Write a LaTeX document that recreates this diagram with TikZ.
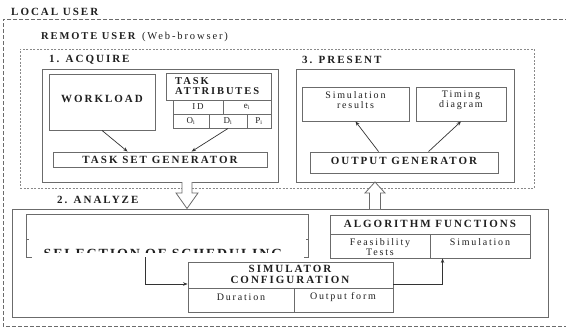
\documentclass[tikz,border=0pt]{standalone}
\usepackage{fontspec}
\setmainfont{Liberation Serif}[LetterSpace=18]
\newfontfamily\selfont{Liberation Serif}[LetterSpace=13]
\usetikzlibrary{arrows.meta,fit,calc}
\definecolor{boxc}{gray}{0.42}
\definecolor{txt}{gray}{0.12}
\begin{document}
\begin{tikzpicture}[x=1pt,y=-1pt,
  box/.style={draw=boxc, line width=0.9pt, inner sep=0pt},
  boxline/.style={draw=boxc, line width=0.9pt},
  bt/.style={font=\fontsize{11}{11}\selectfont\bfseries, text=txt, inner sep=0pt},
  bigt/.style={font=\selfont\fontsize{14}{14}\selectfont\bfseries, text=txt, inner sep=0pt},
  st/.style={font=\fontsize{10}{10}\selectfont, text=txt, align=center, inner sep=0pt},
  ct/.style={font=\fontsize{9}{10}\selectfont, text=txt, inner sep=0pt},
  arr/.style={-{Stealth[length=4.5pt,width=3.5pt]}, draw=black!80, line width=0.7pt},
  ldash/.style={draw=boxc, line width=0.7pt, dash pattern=on 4pt off 2pt},
  rdash/.style={draw=boxc!80, line width=0.6pt, dash pattern=on 2pt off 1.5pt},
  hollow/.style={draw=boxc, line width=0.8pt, fill=white}]
\useasboundingbox (0,0) rectangle (566,327);

% LOCAL USER
\node[bt, anchor=west] (lu) at (11,12) {LOCAL USER};
\draw[ldash] (575,19) -- (3,19) -- (3,326) -- (575,326);

% REMOTE USER
\node[bt, font=\fontsize{10.5}{11}\selectfont\bfseries, anchor=west] (ru) at (41,37) {REMOTE USER \textmd{(Web-browser)}};
\node[rdash, inner sep=0pt, fit={(20,49)(534,188)}] (rem) {};

% 1. ACQUIRE
\node[bt, anchor=west] (acqt) at (49,60) {1. ACQUIRE};
\node[box, fit={(42,69)(278,182)}] (acq) {};
\node[box, fit={(49,74)(155,130)}] (wl) {};
\node[bt] (wlt) at (102,99) {WORKLOAD};
\node[box, fit={(166,73)(271,100)}] (ta) {};
\node[bt, font=\fontsize{10.5}{9.5}\selectfont\bfseries, anchor=west, align=left] (tat) at (175,86) {TASK\\ATTRIBUTES};
\node[box, fit={(173,100)(223,114)}] (id) {};
\node[ct] at (id.center) {ID};
\node[box, fit={(223,100)(271,114)}] (ei) {};
\node[ct] at (ei.center) {e\textsubscript{i}};
\node[box, fit={(173,114)(209,128)}] (oi) {};
\node[ct] at (oi.center) {O\textsubscript{i}};
\node[box, fit={(209,114)(247,128)}] (di) {};
\node[ct] at (di.center) {D\textsubscript{i}};
\node[box, fit={(247,114)(271,128)}] (pi) {};
\node[ct] at (pi.center) {P\textsubscript{i}};
\node[box, fit={(53,152)(267,167)}] (tsg) {};
\node[bt] (tsgt) at (160,160) {TASK SET GENERATOR};
\draw[arr] (wl.south) -- ([xshift=75pt]tsg.north west);
\draw[arr] (di.south) -- ([xshift=139pt]tsg.north west);

% 3. PRESENT
\node[bt, anchor=west] (prt) at (302,60) {3. PRESENT};
\node[box, fit={(296,69)(514,182)}] (pre) {};
\node[box, fit={(302,87)(409,121)}] (sr) {};
\node[st] (srt) at (355.5,100) {Simulation\\results};
\node[box, fit={(416,87)(506,121)}] (td) {};
\node[st] (tdt) at (461,100) {Timing\\diagram};
\node[box, fit={(310,152)(498,173)}] (og) {};
\node[bt] (ogt) at (404,161) {OUTPUT GENERATOR};
\draw[arr] ([xshift=69pt]og.north west) -- (sr.south);
\draw[arr] ([xshift=119pt]og.north west) -- (td.south);

% 2. ANALYZE
\node[bt, anchor=west] (ant) at (57,200) {2. ANALYZE};
\node[box, fit={(12,209)(548,317)}] (ana) {};

% selection of scheduling
\node[inner sep=0pt, fit={(27,215)(308,257)}] (sel) {};
\draw[boxline] ([xshift=5pt]sel.south west) -- (sel.south west) -- (sel.north west) -- (sel.north east) -- (sel.south east) -- ([xshift=-4pt]sel.south east);
\draw[boxline] ([yshift=-3pt]sel.west) -- ++(2.5,0);
\draw[boxline] ([yshift=-3pt]sel.east) -- ++(-2.5,0);
\begin{scope}
\clip (28,216) rectangle (307,252.6);
\node[bigt, anchor=base] (selt) at (163,258.3) {SELECTION OF SCHEDULING};
\end{scope}

% algorithm functions
\node[box, fit={(330,215)(530,234)}] (alg) {};
\node[bt] (algt) at (430,224) {ALGORITHM FUNCTIONS};
\node[box, fit={(330,234)(430,258)}] (fe) {};
\node[st] (fet) at (380,247) {Feasibility\\Tests};
\node[box, fit={(430,234)(530,258)}] (si) {};
\node[st] (sit) at (480,242) {Simulation};

% simulator configuration
\node[box, fit={(188,262)(393,288)}] (simt) {};
\node[bt, align=center] (simtt) at (290,274) {SIMULATOR\\CONFIGURATION};
\node[box, fit={(188,288)(294,312)}] (du) {};
\node[st] (dut) at (241,297) {Duration};
\node[box, fit={(294,288)(393,312)}] (of) {};
\node[st] (oft) at (343,297) {Output form};

\draw[arr] ([xshift=119pt]sel.south west) |- ([yshift=-9pt]simt.west);
\draw[arr] ([yshift=-9pt]simt.east) -| ([xshift=13pt]si.south west);

% hollow block arrows
\draw[hollow] (182,182) -- (182,193) -- (176,193) -- (187,208.5) -- (198,193) -- (192,193) -- (192,182);
\draw[hollow] (369.5,209) -- (369.5,193) -- (365,193) -- (375,182) -- (385,193) -- (380.5,193) -- (380.5,209);
\end{tikzpicture}
\end{document}
